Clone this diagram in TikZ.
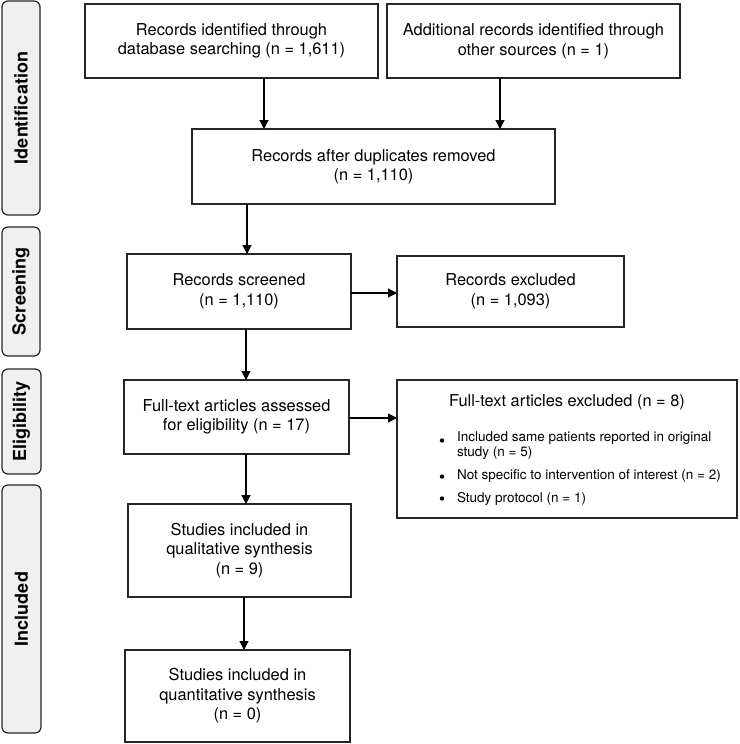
\documentclass[tikz,border=0pt]{standalone}
\usepackage{fontspec}
\setmainfont{TeX Gyre Heros}
\usetikzlibrary{arrows.meta}
\begin{document}
\begin{tikzpicture}[x=1pt,y=-1pt,
  every node/.style={inner sep=0pt, outer sep=0pt},
  flowbox/.style={draw=black!85, line width=1.2pt, fill=white, align=center,
    font=\fontsize{16.4}{19.5}\selectfont},
  sidebox/.style={draw=black!85, line width=1.2pt, fill=black!6, rounded corners=6pt},
  sidelabel/.style={rotate=90, font=\fontsize{18}{20}\selectfont\bfseries},
  arr/.style={line width=1.2pt, draw=black, -{Triangle[length=9pt,width=9pt]}},
  small/.style={font=\fontsize{13.5}{15}\selectfont, align=left}]
\useasboundingbox (0,0) rectangle (739,744);
\fill[white] (0,0) rectangle (739,744);

% side phase boxes
\node[sidebox, minimum width=38pt, minimum height=214pt] (s1) at (21,108) {};
\node[sidelabel] (l1) at (s1.center) {Identification};
\node[sidebox, minimum width=38pt, minimum height=129pt] (s2) at (21,291.5) {};
\node[sidelabel] (l2) at (s2.center) {Screening};
\node[sidebox, minimum width=39pt, minimum height=105pt] (s3) at (21.5,421.5) {};
\node[sidelabel] (l3) at (s3.center) {Eligibility};
\node[sidebox, minimum width=39pt, minimum height=248pt] (s4) at (21.5,609) {};
\node[sidelabel] (l4) at (s4.center) {Included};

% flow boxes
\node[flowbox, minimum width=293pt, minimum height=74pt] (A) at (231.5,41)
  {Records identified through\\database searching (n = 1,611)};
\node[flowbox, minimum width=293pt, minimum height=74pt] (B) at (533.5,41)
  {Additional records identified through\\other sources (n = 1)};
\node[flowbox, minimum width=363pt, minimum height=75pt] (C) at (373.5,166.5)
  {Records after duplicates removed\\(n = 1,110)};
\node[flowbox, minimum width=224pt, minimum height=75pt] (D) at (239,291.5)
  {Records screened\\(n = 1,110)};
\node[flowbox, minimum width=227pt, minimum height=71pt] (E) at (510.5,291.5)
  {Records excluded\\(n = 1,093)};
\node[flowbox, minimum width=225pt, minimum height=74pt] (F) at (236.5,417)
  {Full-text articles assessed\\for eligibility (n = 17)};
\node[flowbox, minimum width=340pt, minimum height=138pt] (G) at (567,449) {};
\node[flowbox, draw=none, fill=none] (Gt) at (567,402) {Full-text articles excluded (n = 8)};
\node[small, anchor=west] (g1) at (457,445.5)
  {Included same patients reported in original\\study (n = 5)};
\node[small, anchor=west] (g2) at (457,476.5)
  {Not specific to intervention of interest (n = 2)};
\node[small, anchor=west] (g3) at (457,498.5)
  {Study protocol (n = 1)};
\fill (442,440.5) circle (2.2pt);
\fill (442,476.5) circle (2.2pt);
\fill (442,498.5) circle (2.2pt);
\node[flowbox, minimum width=223pt, minimum height=93pt] (H) at (239.5,550.5)
  {Studies included in\\qualitative synthesis\\(n = 9)};
\node[flowbox, minimum width=225pt, minimum height=92pt] (I) at (237.5,696)
  {Studies included in\\quantitative synthesis\\(n = 0)};

% arrow positions
\coordinate (xa) at (264,0);
\coordinate (xb) at (500,0);
\coordinate (xc) at (247,0);
\coordinate (xd) at (246,0);
\coordinate (xh) at (244,0);
\coordinate (yd) at (0,293);
\coordinate (yf) at (0,418);

\draw[arr] (A.south -| xa) -- (C.north -| xa);
\draw[arr] (B.south -| xb) -- (C.north -| xb);
\draw[arr] (C.south -| xc) -- (D.north -| xc);
\draw[arr] (D.south -| xd) -- (F.north -| xd);
\draw[arr] (F.south -| xd) -- (H.north -| xd);
\draw[arr] (H.south -| xh) -- (I.north -| xh);
\draw[arr] (D.east |- yd) -- (E.west |- yd);
\draw[arr] (F.east |- yf) -- (G.west |- yf);
\end{tikzpicture}
\end{document}
